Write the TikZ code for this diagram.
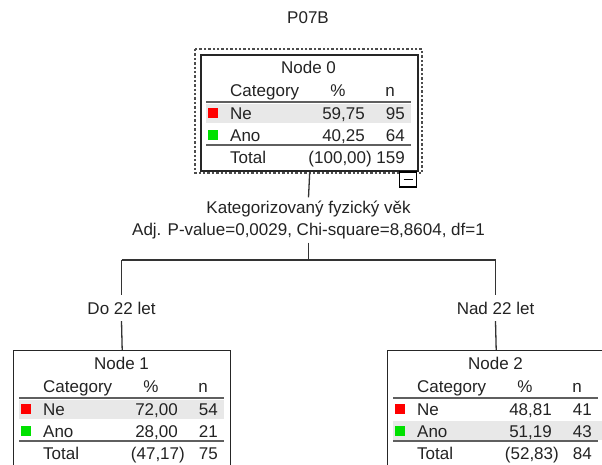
\documentclass[tikz,border=0pt]{standalone}
\usepackage{fontspec}
\setmainfont{Liberation Sans}
\definecolor{rowgray}{RGB}{232,232,232}
\definecolor{linegray}{RGB}{95,95,95}
\definecolor{catred}{RGB}{255,0,0}
\definecolor{catgreen}{RGB}{0,225,0}
\definecolor{inkdark}{RGB}{35,35,35}
\tikzset{
  every node/.style={font=\fontsize{17}{22}\selectfont, inner sep=0pt, text=inkdark},
  boxframe/.style={draw=black!85, line width=1.4pt, minimum width=217, minimum height=116, anchor=north west, inner sep=0pt},
  lft/.style={anchor=base west},
  rgt/.style={anchor=base east},
  ctr/.style={anchor=base},
  rule/.style={draw=linegray, line width=2.2pt},
  conn/.style={draw=black!80, line width=1.3pt},
  swatch/.style={minimum width=10.5, minimum height=10.5, anchor=center},
  dotframe/.style={draw=black!70, line width=2.8pt, dash pattern=on 2.4pt off 2pt},
  branchlabel/.style={minimum height=26, anchor=center},
}
% header of a table: #1 prefix, #2 title
\newcommand\tabhead[2]{%
  \node[ctr] (#1t) at (108.5,19) {#2};
  \node[lft] (#1hc) at (30,42) {Category};
  \node[ctr] (#1hp) at (138,42) {\%};
  \node[ctr] (#1hn) at (190,42) {n};
  \draw[rule] (6,48) -- (211,48);
  \draw[rule] (6,91) -- (211,91);
}
% row: #1 name, #2 y centre, #3 colour, #4 label, #5 pct, #6 n
\newcommand\catrow[6]{%
  \node[swatch, fill=#3] (#1s) at (13,#2) {};
  \node[lft] (#1c) at (30,#2+6) {#4};
  \node[rgt] (#1p) at (165,#2+6) {#5};
  \node[rgt] (#1n) at (205,#2+6) {#6};
}
\newcommand\totrow[3]{%
  \node[lft] (#1c) at (30,109) {Total};
  \node[rgt] (#1p) at (172,109) {#2};
  \node[rgt] (#1n) at (205,109) {#3};
}
\begin{document}
\begin{tikzpicture}[x=1pt,y=-1pt]
\useasboundingbox (0,0) rectangle (602,464);
\fill[white] (0,0) rectangle (602,464);

\node (title) at (308,18) {P07B};

% Node 0
\draw[dotframe] (195,49) rectangle (422,173);
\begin{scope}[shift={(200,54)}]
  \fill[rowgray] (6,50) rectangle (211,69);
  \tabhead{a}{Node 0}
  \catrow{ane}{59}{catred}{Ne}{59,75}{95}
  \catrow{aano}{81}{catgreen}{Ano}{40,25}{64}
  \totrow{atot}{(100,00)}{159}
  \node[boxframe, line width=2.4pt] (n0) at (0,0) {};
\end{scope}
\node[draw=black, line width=1.1pt, fill=white, minimum width=17, minimum height=15] (collapse) at (408,179.5) {};
\draw[black, line width=1.2pt] ([xshift=-4.5pt]collapse.center) -- ([xshift=4.5pt]collapse.center);

% Node 1
\begin{scope}[shift={(13,350)}]
  \fill[rowgray] (6,50) rectangle (211,69);
  \tabhead{b}{Node 1}
  \catrow{bne}{59}{catred}{Ne}{72,00}{54}
  \catrow{bano}{81}{catgreen}{Ano}{28,00}{21}
  \totrow{btot}{(47,17)}{75}
  \node[boxframe] (n1) at (0,0) {};
\end{scope}

% Node 2
\begin{scope}[shift={(387,350)}]
  \fill[rowgray] (6,71) rectangle (215,90);
  \tabhead{c}{Node 2}
  \catrow{cne}{59}{catred}{Ne}{48,81}{41}
  \catrow{cano}{81}{catgreen}{Ano}{51,19}{43}
  \totrow{ctot}{(52,83)}{84}
  \node[boxframe] (n2) at (0,0) {};
\end{scope}

% split label
\node[align=center, minimum height=45] (split) at (308.5,220) {Kategorizovaný fyzický věk\\Adj. P-value=0,0029, Chi-square=8,8604, df=1};

\coordinate (bl) at (121.5,260);
\coordinate (bm) at (308.5,260);
\coordinate (br) at (495.5,260);
\node[branchlabel] (l1) at (121.5,308) {Do 22 let};
\node[branchlabel] (l2) at (495.5,308) {Nad 22 let};

\draw[conn] (n0.south) -- (split.north);
\draw[conn] (split.south) -- (bm);
\draw[conn] (bl) -- (br);
\draw[conn] (bl) -- (l1.north);
\draw[conn] (br) -- (l2.north);
\draw[conn] (l1.south) -- (n1.north);
\draw[conn] (l2.south) -- (n2.north);
\end{tikzpicture}
\end{document}
